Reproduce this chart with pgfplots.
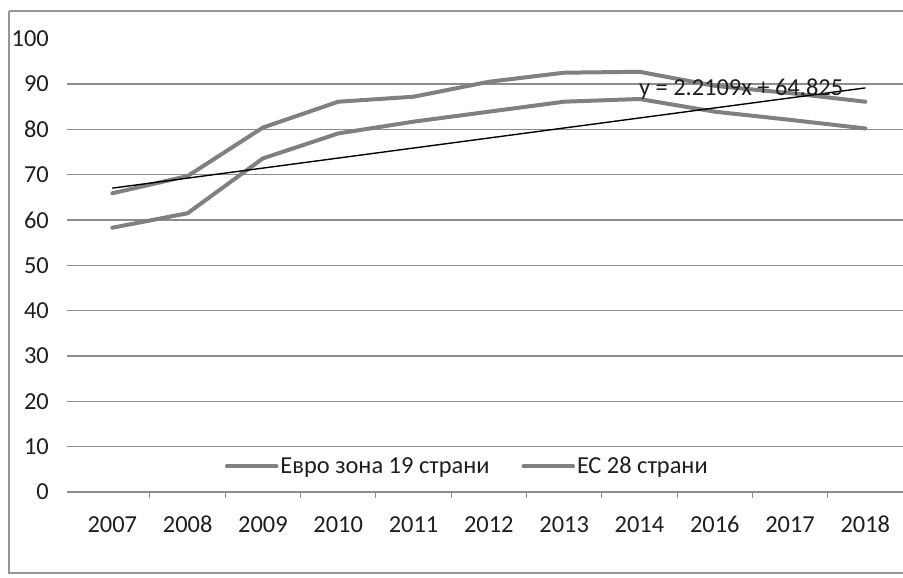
\documentclass[border=0pt]{standalone}
\usepackage{pgfplots}
\pgfplotsset{compat=1.18}
\usepackage{fontspec}
\setmainfont{Carlito}

\definecolor{seriesgray}{RGB}{128,128,128}
\definecolor{gridgray}{RGB}{140,140,140}
\definecolor{framegray}{RGB}{150,150,150}
\definecolor{textdark}{RGB}{30,30,30}

\begin{document}
\begin{tikzpicture}
  % canvas and outer chart frame
  \useasboundingbox (0bp,0bp) rectangle (903bp,-578bp);
  \draw[framegray, line width=1.5bp] (9bp,-11bp) -- (910bp,-11bp)
       (9bp,-11bp) -- (9bp,-573bp) -- (910bp,-573bp);

  \begin{axis}[
    at={(67bp,-492bp)}, anchor=south west,
    scale only axis,
    width=836bp, height=453.3bp,
    xmin=0.398, xmax=11.5,
    ymin=0, ymax=100,
    axis x line*=bottom,
    axis y line*=left,
    y axis line style={draw=none},
    x axis line style={gridgray, line width=1.2bp, -},
    xtick={1,...,11},
    xticklabels={2007,2008,2009,2010,2011,2012,2013,2014,2016,2017,2018},
    minor xtick={1.5,2.5,...,10.5},
    major tick length=0pt,
    minor tick length=6bp,
    tick align=outside,
    minor x tick style={gridgray, line width=1bp},
    ytick={0,10,...,90},
    extra y ticks={100},
    extra y tick style={grid=none},
    ymajorgrids,
    major grid style={gridgray, line width=1.2bp},
    every tick label/.append style={inner sep=0pt, font=\fontsize{24.5}{28}\selectfont, text=textdark},
    yticklabel style={anchor=east, xshift=-18bp},
    xticklabel style={anchor=base, yshift=-40bp},
    /pgf/number format/assume math mode=true,
    legend columns=2,
    legend style={at={(0.4789,0.057)}, anchor=center, draw=none, fill=none,
      font=\fontsize{24.5}{28}\selectfont, text=textdark,
      /tikz/every even column/.append style={column sep=30bp},
      inner sep=0pt},
    legend image code/.code={\draw[#1, line width=3.5bp] (0bp,0bp) -- (50bp,0bp);},
    clip=false,
  ]
    % Euro area, 19 countries
    \addplot[seriesgray, line width=4bp, line join=round, line cap=round] coordinates {
      (1,65.9) (2,69.7) (3,80.4) (4,86.1) (5,87.2) (6,90.5)
      (7,92.5) (8,92.7) (9,89.6) (10,88.0) (11,86.1)};
    \addlegendentry{Евро зона 19 страни}
    % EU, 28 countries
    \addplot[seriesgray, line width=4bp, line join=round, line cap=round] coordinates {
      (1,58.3) (2,61.5) (3,73.6) (4,79.1) (5,81.7) (6,83.9)
      (7,86.1) (8,86.7) (9,83.9) (10,82.1) (11,80.2)};
    \addlegendentry{ЕС 28 страни}
    % linear trend of the EU series: y = 2.2109x + 64.825
    \addplot[black, line width=1.4bp, forget plot] coordinates {
      (1,67.036) (11,89.144)};
    \node[text=textdark, font=\fontsize{24.5}{28}\selectfont, inner sep=0pt]
      at (axis cs:9.35,88.9) {y = 2.2109x + 64.825};
  \end{axis}
\end{tikzpicture}
\end{document}
